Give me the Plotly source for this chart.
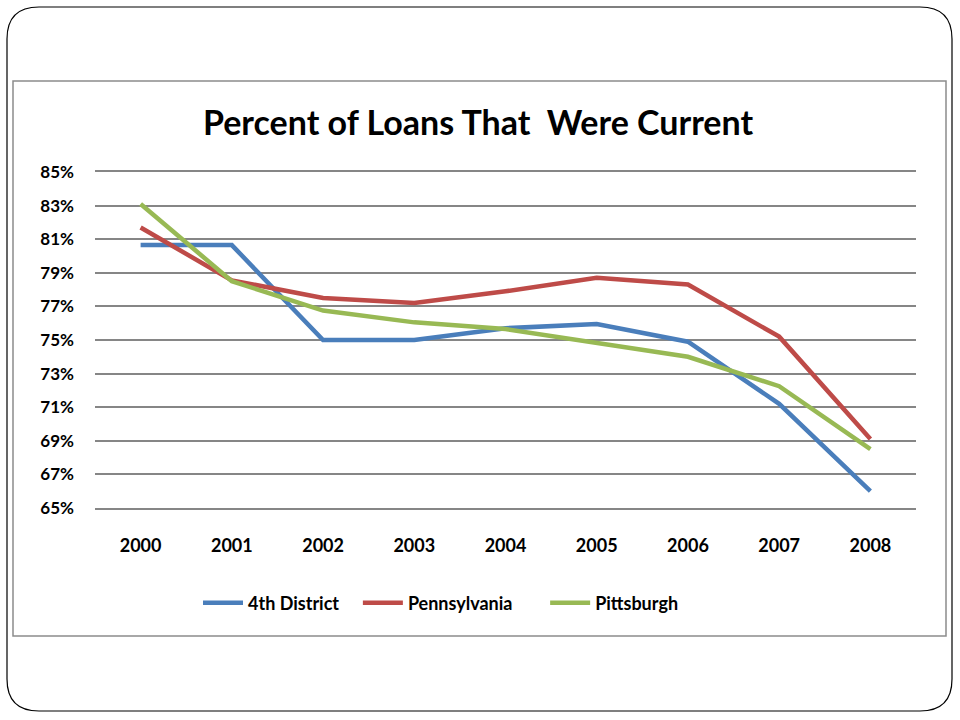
import plotly.graph_objects as go

years = ['2000', '2001', '2002', '2003', '2004', '2005', '2006', '2007', '2008']
fourth_district = [80.65, 80.65, 75.0, 75.0, 75.7, 75.95, 74.9, 71.2, 66.0]
pennsylvania = [81.7, 78.55, 77.5, 77.2, 77.9, 78.7, 78.3, 75.2, 69.1]
pittsburgh = [83.1, 78.5, 76.75, 76.05, 75.65, 74.8, 74.0, 72.25, 68.5]
series_names = ['4th District', 'Pennsylvania', 'Pittsburgh']

W, H = 960, 720
L, R, T, B = 95, 44, 172, 212
pw, ph = W - L - R, H - T - B


def px(x):
    return (x - L) / pw


def py(y):
    return 1 - (y - T) / ph


fig = go.Figure()
colors = ['#4A7EBB', '#BE4B48', '#98B954']
pad = ['\u00a0' * 3, '\u00a0' * 6, '']
for name, vals, c, p in zip(series_names, [fourth_district, pennsylvania, pittsburgh], colors, pad):
    fig.add_trace(go.Scatter(x=years, y=vals, name=f'<b>{name}</b>{p}', mode='lines',
                             line=dict(color=c, width=4.5)))

# rahmen: folie (abgerundet) und diagrammbereich
x0, x1, y0, y1, r = 7, 952, 7, 711, 32
path = (f'M {px(x0 + r)},{py(y0)} L {px(x1 - r)},{py(y0)} '
        f'Q {px(x1)},{py(y0)} {px(x1)},{py(y0 + r)} '
        f'L {px(x1)},{py(y1 - r)} Q {px(x1)},{py(y1)} {px(x1 - r)},{py(y1)} '
        f'L {px(x0 + r)},{py(y1)} Q {px(x0)},{py(y1)} {px(x0)},{py(y1 - r)} '
        f'L {px(x0)},{py(y0 + r)} Q {px(x0)},{py(y0)} {px(x0 + r)},{py(y0)} Z')
fig.add_shape(type='path', path=path, xref='paper', yref='paper',
              line=dict(color='black', width=1.2), layer='below')
fig.add_shape(type='rect', xref='paper', yref='paper',
              x0=px(13), x1=px(946), y0=py(81), y1=py(636),
              line=dict(color='#8C8C8C', width=1.5), layer='below')

font = 'Lato, Calibri, sans-serif'
fig.update_layout(
    width=W, height=H,
    margin=dict(l=L, r=R, t=T, b=B),
    paper_bgcolor='white', plot_bgcolor='white',
    title=dict(text='<b>Percent of Loans That  Were Current</b>',
               x=478 / W, xanchor='center', y=1 - 123 / H, yanchor='middle',
               font=dict(family=font, size=34, color='black')),
    font=dict(family=font, color='black'),
    showlegend=True,
    legend=dict(orientation='h', x=px(198), xanchor='left', y=py(603), yanchor='middle',
                font=dict(family=font, size=18, color='black'),
                itemwidth=40, tracegroupgap=0),
    xaxis=dict(type='category', range=[-0.5, 8.5], showgrid=False, zeroline=False,
               showline=True, mirror=True, linecolor='#868686', linewidth=1.5,
               ticks='', tickfont=dict(family=font, size=18, color='black'),
               ticklabelstandoff=21, tickprefix='<b>', ticksuffix='</b>'),
    yaxis=dict(range=[65, 85], dtick=2, tick0=65, showgrid=True, gridcolor='#868686',
               gridwidth=1.5, zeroline=False, showline=False, ticks='',
               ticksuffix='%</b>', tickprefix='<b>', ticklabelstandoff=20,
               tickfont=dict(family=font, size=17, color='black')),
)

fig.write_html('out.html', config={'displayModeBar': False},
               post_script="document.body.style.margin='0';")
